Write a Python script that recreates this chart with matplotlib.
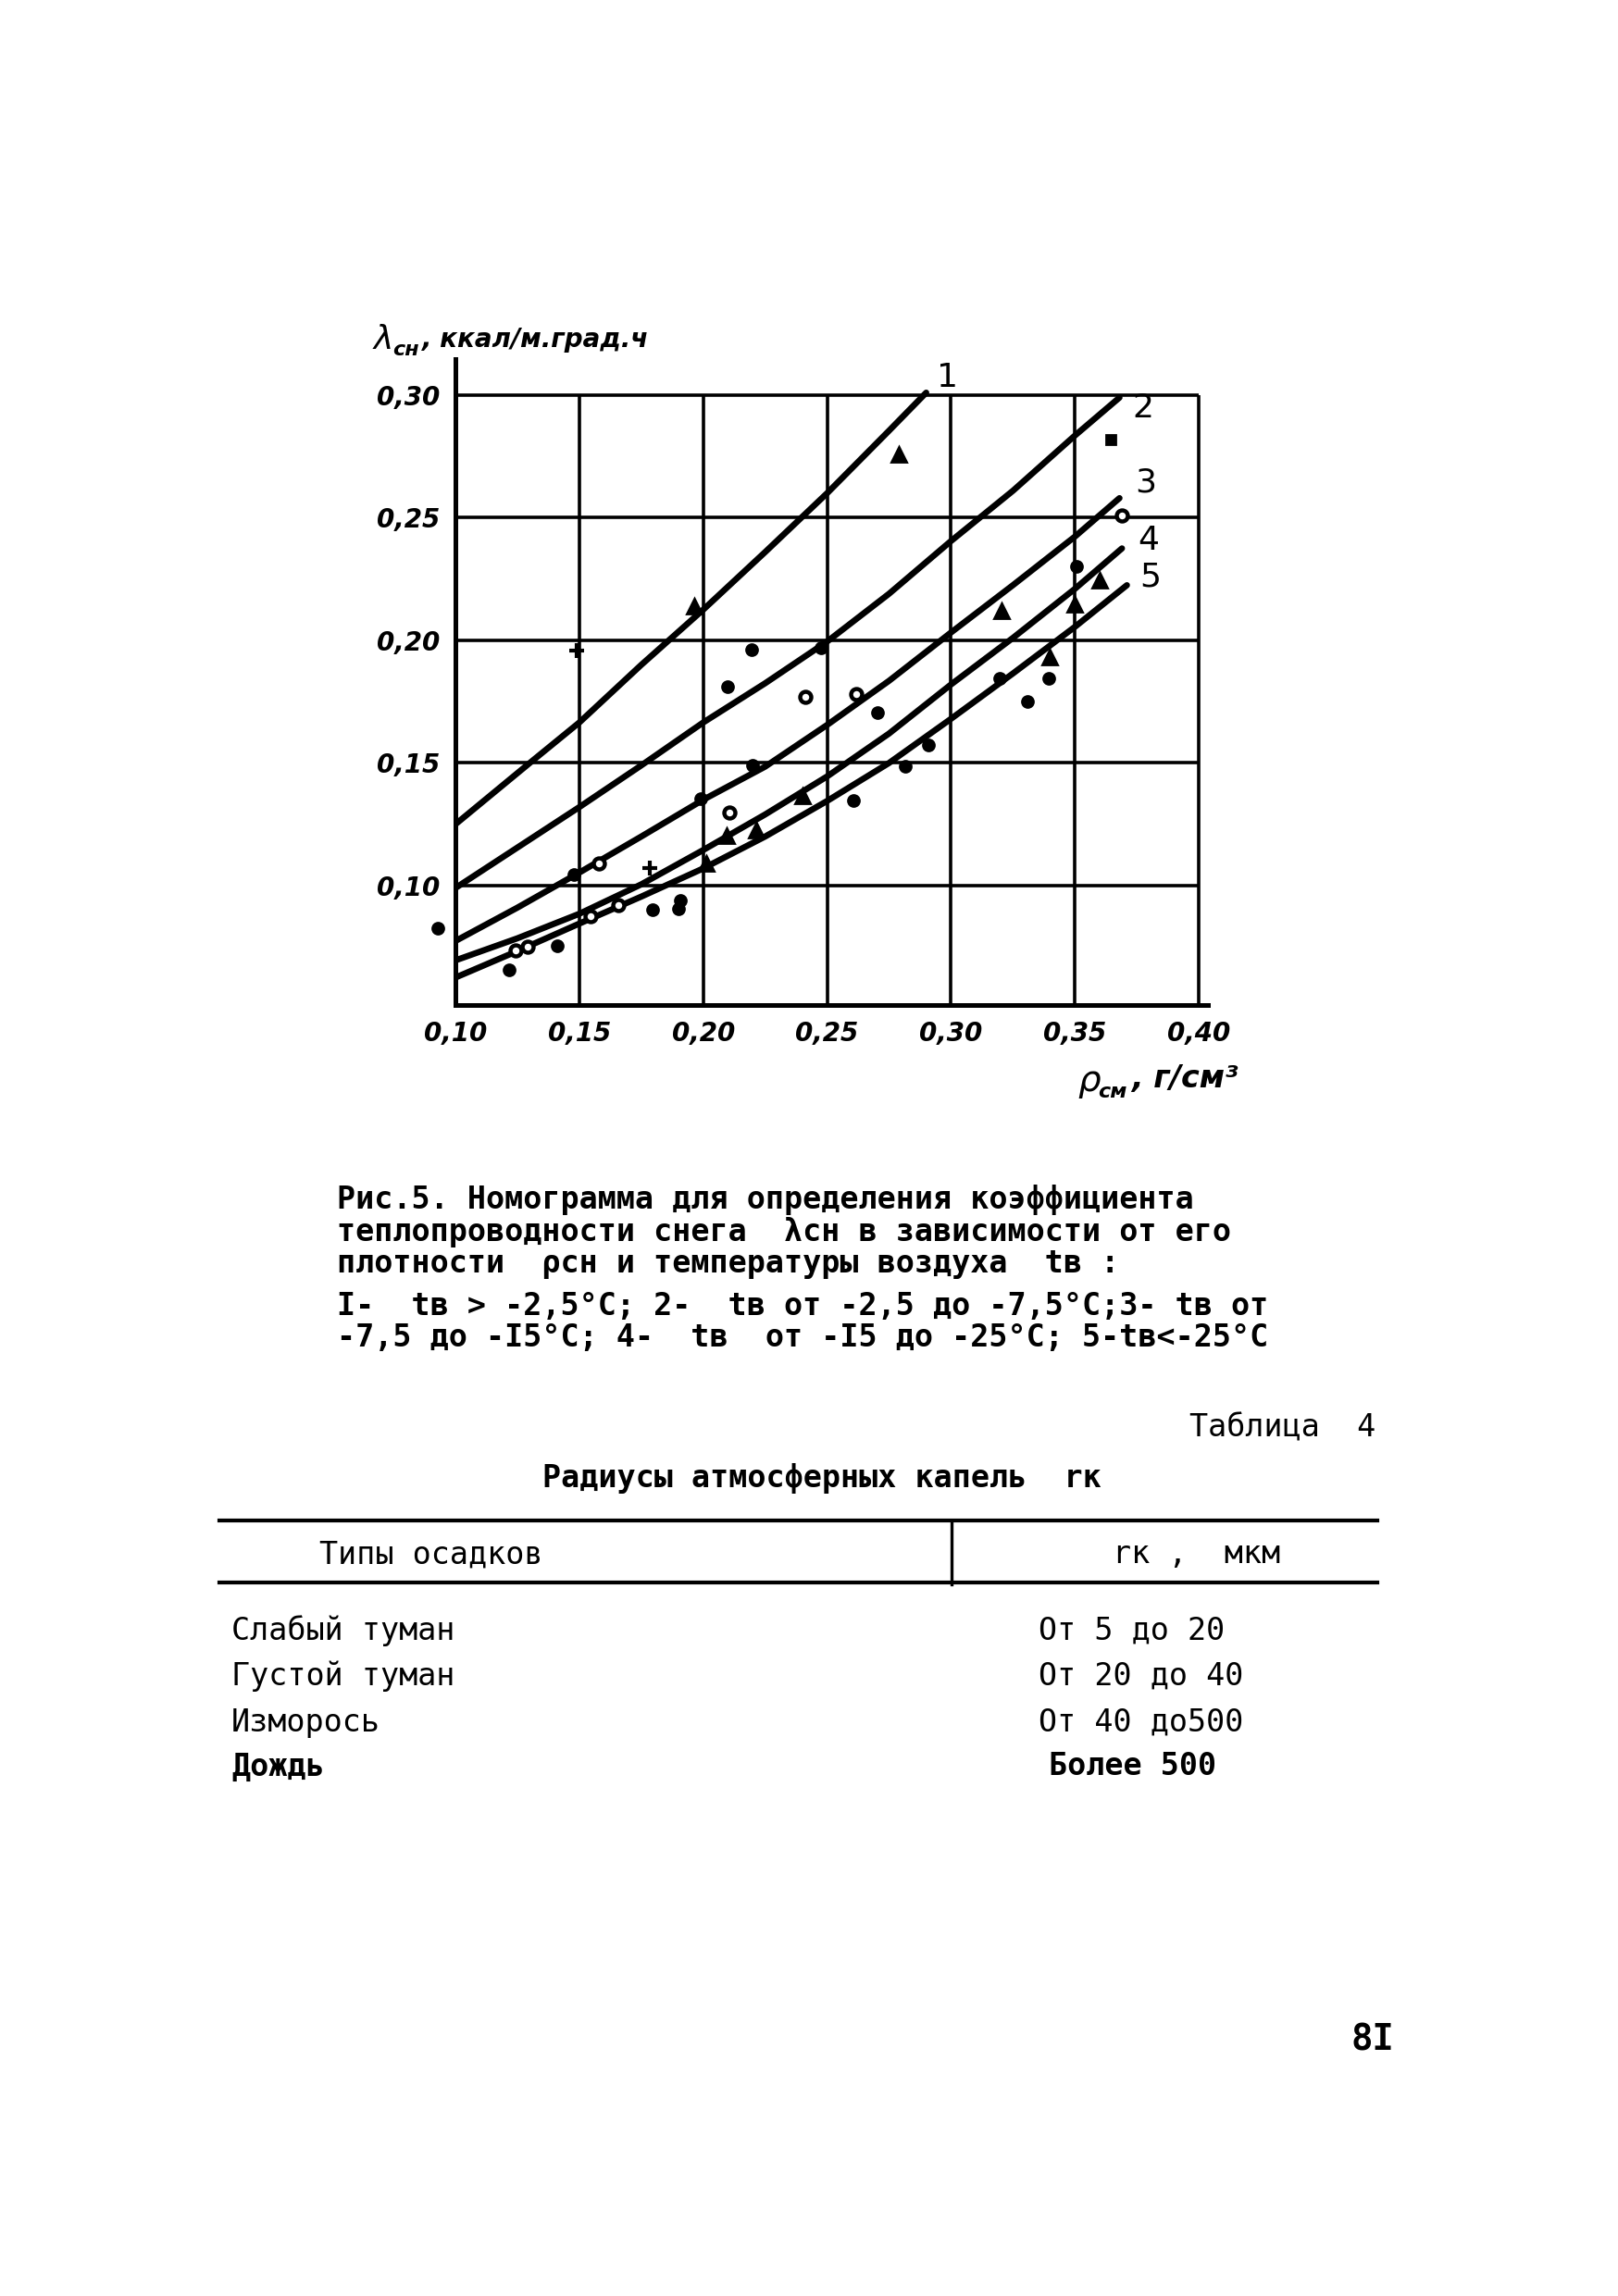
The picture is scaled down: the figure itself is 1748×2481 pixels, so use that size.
# coding: utf-8
import matplotlib
matplotlib.use('Agg')
import matplotlib.pyplot as plot
from matplotlib.lines import Line2D

FIG_W = 1748
FIG_H = 2481
PIXELS_PER_INCH = 200
MONO = 'DejaVu Sans Mono'

# --- chart data ---
RHO_TICKS = [0.10, 0.15, 0.20, 0.25, 0.30, 0.35, 0.40]
RHO_LABELS = ['0,10', '0,15', '0,20', '0,25', '0,30', '0,35', '0,40']
LAMBDA_TICKS = [0.10, 0.15, 0.20, 0.25, 0.30]
LAMBDA_LABELS = ['0,10', '0,15', '0,20', '0,25', '0,30']

CURVE_NAMES = ['1', '2', '3', '4', '5']
CURVE_1_X = [0.10, 0.13, 0.15, 0.175, 0.20, 0.225, 0.25, 0.275, 0.29]
CURVE_1_Y = [0.125, 0.150, 0.1665, 0.190, 0.2125, 0.236, 0.260, 0.2855, 0.301]
CURVE_2_X = [0.10, 0.125, 0.15, 0.175, 0.20, 0.225, 0.25, 0.275, 0.30, 0.325, 0.35, 0.368]
CURVE_2_Y = [0.099, 0.1155, 0.132, 0.149, 0.1665, 0.1825, 0.1995, 0.219, 0.2405, 0.261, 0.2835, 0.299]
CURVE_3_X = [0.10, 0.125, 0.15, 0.175, 0.20, 0.225, 0.25, 0.275, 0.30, 0.325, 0.35, 0.368]
CURVE_3_Y = [0.0774, 0.091, 0.1053, 0.120, 0.135, 0.1485, 0.1655, 0.1835, 0.2032, 0.2225, 0.2423, 0.258]
CURVE_4_X = [0.10, 0.125, 0.15, 0.175, 0.20, 0.225, 0.25, 0.275, 0.30, 0.325, 0.35, 0.369]
CURVE_4_Y = [0.0695, 0.0785, 0.0885, 0.1005, 0.1145, 0.129, 0.1445, 0.162, 0.182, 0.201, 0.221, 0.2375]
CURVE_5_X = [0.10, 0.125, 0.15, 0.175, 0.20, 0.225, 0.25, 0.275, 0.30, 0.325, 0.35, 0.371]
CURVE_5_Y = [0.0625, 0.0733, 0.0845, 0.0955, 0.107, 0.120, 0.1345, 0.150, 0.168, 0.1865, 0.2055, 0.2225]

# measured points
DOT_X = [0.0929, 0.2196, 0.210, 0.2476, 0.2704, 0.291, 0.2816, 0.2607, 0.220, 0.199,
	0.1478, 0.1908, 0.190, 0.1796, 0.1411, 0.1217, 0.3507, 0.3395, 0.3309, 0.3197]
DOT_Y = [0.0826, 0.1962, 0.1811, 0.197, 0.1706, 0.1574, 0.1487, 0.1347, 0.149, 0.1355,
	0.1045, 0.094, 0.0906, 0.0902, 0.0755, 0.0657, 0.2302, 0.1845, 0.1751, 0.1845]
RING_X = [0.2413, 0.2618, 0.2106, 0.158, 0.1658, 0.1546, 0.1291, 0.1243, 0.369]
RING_Y = [0.177, 0.1781, 0.1298, 0.109, 0.0921, 0.0875, 0.0751, 0.0736, 0.2509]
TRI_X = [0.1964, 0.279, 0.3205, 0.36, 0.35, 0.340, 0.2401, 0.2215, 0.2095, 0.2013]
TRI_Y = [0.214, 0.276, 0.2121, 0.2245, 0.2147, 0.1932, 0.1366, 0.1226, 0.1204, 0.109]
PLUS_X = [0.149, 0.1785]
PLUS_Y = [0.196, 0.107]
SQ_X = [0.3646]
SQ_Y = [0.2819]

# --- text of the page ---
CAPTION_LINES = [
	'Рис.5. Номограмма для определения коэффициента',
	'теплопроводности снега  λсн в зависимости от его',
	'плотности  ρсн и температуры воздуха  tв :',
	'I-  tв > -2,5°С; 2-  tв от -2,5 до -7,5°С;3- tв от',
	'-7,5 до -I5°С; 4-  tв  от -I5 до -25°С; 5-tв<-25°С',
]
TABLE_NUMBER = 'Таблица  4'
TABLE_TITLE = 'Радиусы атмосферных капель  rк'
TABLE_HEADER = ['Типы осадков', 'rк ,  мкм']
PRECIP_TYPES = ['Слабый туман', 'Густой туман', 'Изморось', 'Дождь']
DROP_RADII = ['От 5 до 20', 'От 20 до 40', 'От 40 до500', 'Более 500']
PAGE_NUMBER = '8I'


def px(x, y):
	return x / float(FIG_W), 1.0 - y / float(FIG_H)


def fig_line(fig, x0, x1, y0, y1, lw):
	a = px(x0, y0)
	b = px(x1, y1)
	fig.add_artist(Line2D([a[0], b[0]], [a[1], b[1]], transform=fig.transFigure,
		color='black', linewidth=lw))


def plot_nomogram(fig):
	left, bottom = px(492, 1086)
	ax = fig.add_axes([left, bottom, (1305 - 492) / float(FIG_W), (1086 - 388) / float(FIG_H)])
	ax.set_xlim(0.10, 0.4037)
	ax.set_ylim(0.0513, 0.3147)

	# grid of the nomogram
	ax.hlines(LAMBDA_TICKS, RHO_TICKS[0], RHO_TICKS[-1], colors='black', linewidth=1.3)
	ax.vlines(RHO_TICKS[1:], 0.0513, LAMBDA_TICKS[-1], colors='black', linewidth=1.3)

	curves = [(CURVE_1_X, CURVE_1_Y), (CURVE_2_X, CURVE_2_Y), (CURVE_3_X, CURVE_3_Y),
		(CURVE_4_X, CURVE_4_Y), (CURVE_5_X, CURVE_5_Y)]
	label_offsets = [(4, 6), (5, -4), (6, 6), (6, 3), (5, 3)]
	for (cx, cy), name, off in zip(curves, CURVE_NAMES, label_offsets):
		ax.plot(cx, cy, color='black', linewidth=2.4, solid_capstyle='round')
		ax.annotate(name, (cx[-1], cy[-1]), xytext=off, textcoords='offset points',
			fontsize=13, ha='left', va='center')

	ax.plot(DOT_X, DOT_Y, 'o', color='black', markersize=4.3, clip_on=False)
	ax.plot(RING_X, RING_Y, 'o', markerfacecolor='white', markeredgecolor='black',
		markeredgewidth=1.6, markersize=4.3)
	ax.plot(TRI_X, TRI_Y, '^', color='black', markersize=5.5)
	ax.plot(PLUS_X, PLUS_Y, '+', color='black', markersize=6, markeredgewidth=1.5)
	ax.plot(SQ_X, SQ_Y, 's', color='black', markersize=3.5)

	for side in ('top', 'right'):
		ax.spines[side].set_visible(False)
	for side in ('left', 'bottom'):
		ax.spines[side].set_linewidth(1.8)
	ax.set_xticks(RHO_TICKS, RHO_LABELS)
	ax.set_yticks(LAMBDA_TICKS, LAMBDA_LABELS)
	ax.tick_params(axis='x', length=0, pad=6, labelsize=10)
	ax.tick_params(axis='y', length=0, pad=6, labelsize=10)
	for lab in ax.get_xticklabels() + ax.get_yticklabels():
		lab.set_fontstyle('italic')
		lab.set_fontweight('bold')

	# axis titles
	fig.text(*px(404, 367), 'λ', fontsize=13, style='italic', ha='left', va='center')
	fig.text(*px(424, 378), 'сн', fontsize=8, style='italic', weight='bold', ha='left', va='center')
	fig.text(*px(456, 367), ', ккал/м.град.ч', fontsize=10, style='italic', weight='bold',
		ha='left', va='center')
	fig.text(*px(1164, 1168), 'ρ', fontsize=14, style='italic', ha='left', va='center')
	fig.text(*px(1186, 1180), 'см', fontsize=8, style='italic', weight='bold', ha='left', va='center')
	fig.text(*px(1222, 1166), ', г/см³', fontsize=12, style='italic', weight='bold',
		ha='left', va='center')


def plot_page_text(fig):
	caption_y = [1296, 1331, 1366, 1411, 1446]
	for line, y in zip(CAPTION_LINES, caption_y):
		fig.text(*px(364, y), line, family=MONO, fontsize=12, weight='bold',
			ha='left', va='center')

	fig.text(*px(1486, 1543), TABLE_NUMBER, family=MONO, fontsize=12, ha='right', va='center')
	fig.text(*px(586, 1597), TABLE_TITLE, family=MONO, fontsize=12, weight='bold',
		ha='left', va='center')

	fig_line(fig, 237, 1488, 1643, 1643, 1.5)
	fig_line(fig, 237, 1488, 1710, 1710, 1.5)
	fig_line(fig, 1028, 1028, 1643, 1712, 1.2)
	fig.text(*px(345, 1680), TABLE_HEADER[0], family=MONO, fontsize=12, ha='left', va='center')
	fig.text(*px(1202, 1680), TABLE_HEADER[1], family=MONO, fontsize=12, ha='left', va='center')

	row_y = [1762, 1811, 1861, 1909]
	for i, (name, radius) in enumerate(zip(PRECIP_TYPES, DROP_RADII)):
		w = 'bold' if i == len(PRECIP_TYPES) - 1 else 'normal'
		fig.text(*px(250, row_y[i]), name, family=MONO, fontsize=12, weight=w,
			ha='left', va='center')
		x = 1133 if i == len(PRECIP_TYPES) - 1 else 1122
		fig.text(*px(x, row_y[i]), radius, family=MONO, fontsize=12, weight=w,
			ha='left', va='center')

	fig.text(*px(1483, 2205), PAGE_NUMBER, family=MONO, fontsize=14, weight='bold',
		ha='center', va='center')


if __name__ == '__main__':
	fig = plot.figure(figsize=(FIG_W / float(PIXELS_PER_INCH), FIG_H / float(PIXELS_PER_INCH)),
		dpi=PIXELS_PER_INCH)
	fig.patch.set_facecolor('white')
	plot_nomogram(fig)
	plot_page_text(fig)
	fig.savefig('out.png', dpi=PIXELS_PER_INCH, facecolor='white')
